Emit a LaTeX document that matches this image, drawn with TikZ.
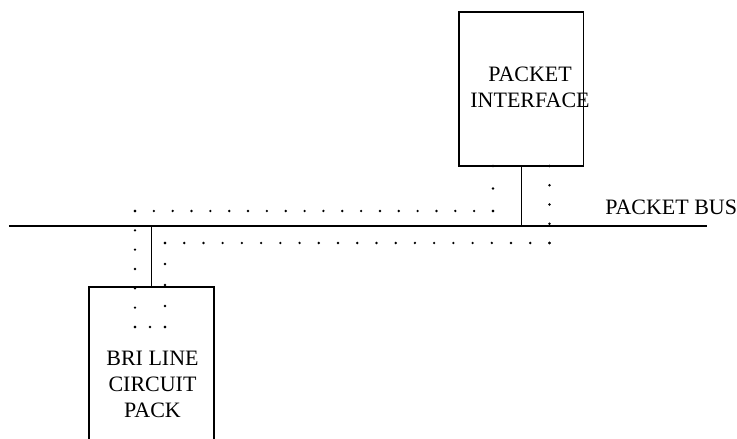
\documentclass[tikz,border=0pt]{standalone}
\usepackage{fontspec}
\setmainfont{Liberation Serif}
\usepackage{tikz}
\usetikzlibrary{positioning, calc}

\begin{document}
\begin{tikzpicture}[
  unit/.style={rectangle, draw, line width=0.6pt, minimum width=2.49cm,
    inner sep=0pt},
  unittext/.style={align=center, inner sep=0pt,
    font=\fontsize{12.5}{14.8}\selectfont},
  link/.style={line width=0.6pt},
  bus/.style={line width=0.7pt}
]
\useasboundingbox (0,0) rectangle (14.74,8.78);
\clip (0,0) rectangle (14.74,8.78);

% Units
\node[unit, minimum height=3.08cm] (pif) at (10.425, 7.0) {};
\node[unittext] (piftext) at (10.60, 7.04) {PACKET\\INTERFACE};
\node[unit, minimum width=2.5cm, minimum height=3.44cm] (bri) at (3.03, 1.32) {};
\node[unittext] (britext) at (3.05, 1.10) {BRI LINE\\CIRCUIT\\PACK};

% Bus
\coordinate (busL) at (0.18, 4.26);
\coordinate (busR) at (14.14, 4.26);
\draw[bus] (busL) -- (busR);
\node[unittext, anchor=base west] (buslabel) at (12.1, 4.48) {PACKET BUS};

% Drops
\draw[link] (pif.south) -- (pif.south |- busL);
\draw[link] (bri.north) -- (bri.north |- busL);

% Dotted route
\coordinate (r1) at (9.86, 5.46);
\coordinate (r2) at (9.86, 4.56);
\coordinate (r3) at (2.70, 4.56);
\coordinate (r4) at (2.70, 2.24);
\coordinate (r5) at (3.30, 2.24);
\coordinate (r6) at (3.30, 3.92);
\coordinate (r7) at (10.99, 3.92);
\coordinate (r8) at (10.99, 5.46);
\foreach \a/\b/\n in {r1/r2/2, r2/r3/19, r3/r4/6, r4/r5/2, r5/r6/4, r6/r7/20, r7/r8/4}
  \foreach \i in {0,...,\n}
    \fill ($(\a)!\i/\n!(\b)$) circle (0.75pt);
\end{tikzpicture}
\end{document}
